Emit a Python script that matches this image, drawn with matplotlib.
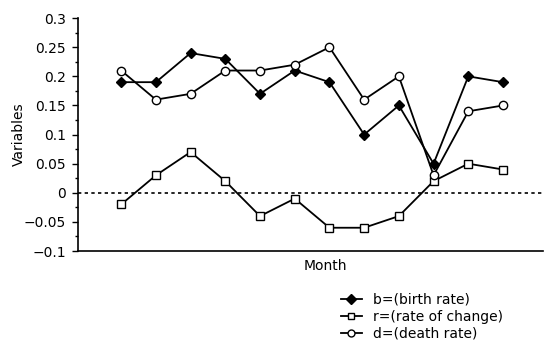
import matplotlib.pyplot as plt
import numpy as np

plt.rcParams['font.family'] = ['DejaVu Sans']
plt.rcParams['axes.unicode_minus'] = True

# Datos
meses = np.arange(1, 13)
birth = [0.19, 0.19, 0.24, 0.23, 0.17, 0.21, 0.19, 0.10, 0.15, 0.05, 0.20, 0.19]
change = [-0.02, 0.03, 0.07, 0.02, -0.04, -0.01, -0.06, -0.06, -0.04, 0.02, 0.05, 0.04]
death = [0.21, 0.16, 0.17, 0.21, 0.21, 0.22, 0.25, 0.16, 0.20, 0.03, 0.14, 0.15]

fig = plt.figure(figsize=(5.44, 3.42), dpi=100)
ax = fig.add_axes([0.143, 0.266, 0.855, 0.681])

ax.axhline(0, color='black', linestyle=(0, (2, 2)), linewidth=1.2, zorder=1)
ax.plot(meses, birth, color='black', lw=1.3, marker='D', ms=5.5, mfc='black', mec='black',
        label='b=(birth rate)', zorder=3)
ax.plot(meses, change, color='black', lw=1.3, marker='s', ms=6, mfc='white', mec='black',
        label='r=(rate of change)', zorder=3)
ax.plot(meses, death, color='black', lw=1.3, marker='o', ms=6, mfc='white', mec='black',
        label='d=(death rate)', zorder=3)

ax.set_xlim(-0.25, 13.15)
ax.set_ylim(-0.1, 0.3)
ax.set_yticks(np.arange(-0.1, 0.31, 0.05))
ax.set_yticklabels(['\u22120.1', '\u22120.05', '0', '0.05', '0.1', '0.15', '0.2', '0.25', '0.3'])
ax.set_yticks(np.arange(-0.1, 0.3, 0.025), minor=True)
ax.set_xticks([])
ax.tick_params(axis='y', labelsize=10, length=4, width=1, direction='out', pad=4.5)
ax.tick_params(axis='y', which='minor', length=2.5, width=1)

for s in ['top', 'right']:
    ax.spines[s].set_visible(False)
ax.spines['left'].set_linewidth(1.2)
ax.spines['bottom'].set_linewidth(1.2)

ax.set_ylabel('Variables', fontsize=10, labelpad=-1.8)
ax.set_xlabel('Month', fontsize=10)
ax.xaxis.set_label_coords(0.532, -0.033)

leg = ax.legend(loc='upper left', bbox_to_anchor=(0.614, 0.164), bbox_transform=fig.transFigure,
                frameon=False, fontsize=10, handlelength=1.5, handletextpad=0.8,
                labelspacing=0.2, borderpad=0)
for h in leg.legend_handles:
    h.set_markersize(5)

plt.savefig('out.png', dpi=100)
